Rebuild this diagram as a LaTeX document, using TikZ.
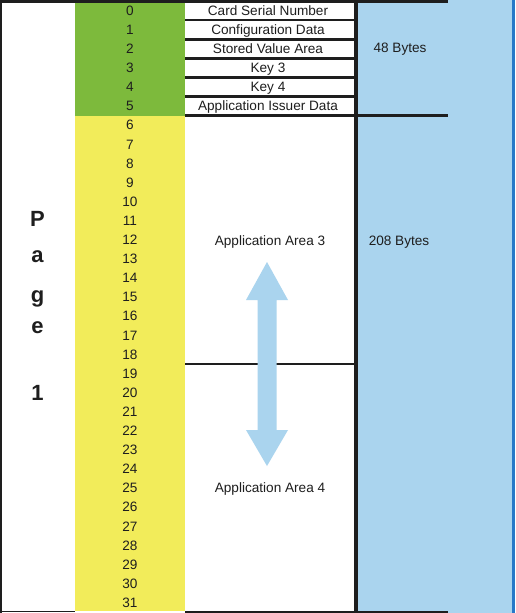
\documentclass[tikz,border=0pt]{standalone}
\usepackage{fontspec}
\setmainfont{Liberation Sans}
\definecolor{cgreen}{RGB}{125,186,60}
\definecolor{cyellow}{RGB}{242,236,90}
\definecolor{cblue}{RGB}{170,212,238}
\definecolor{cedge}{RGB}{40,120,200}
\definecolor{ink}{RGB}{30,30,30}
\begin{document}
\begin{tikzpicture}[x=1pt,y=-1pt,
  txt/.style={font=\fontsize{13.6}{14}\selectfont, text=ink, inner sep=0pt, anchor=base},
  pg/.style={font=\fontsize{22}{24}\selectfont\bfseries, text=ink, inner sep=0pt, anchor=base},
  rule/.style={draw=ink, line width=2.7pt},
  thinrule/.style={draw=ink, line width=2pt}]
\useasboundingbox (0,0) rectangle (515,613);
\fill[white] (0,0) rectangle (515,613);
% columns
\fill[cblue] (358,0) rectangle (515,613);
\fill[cedge] (512,0) rectangle (515,613);
\fill[cgreen] (75,3) rectangle (185,115.6);
\fill[cyellow] (75,115.6) rectangle (185,611);
% borders
\fill[ink] (0,0) rectangle (2,613);
\fill[ink] (0,0) rectangle (448,3);
\fill[ink] (0,610.5) rectangle (75,612);
\fill[ink] (185,610.5) rectangle (448,612.5);
% row rules
\foreach \k in {1,...,5}{
  \draw[rule] (185,{1+19.1*\k}) -- (356,{1+19.1*\k});
}
\draw[rule] (185,115.6) -- (448,115.6);
\draw[thinrule] (185,364.3) -- (356,364.3);
\draw[draw=ink, line width=3.5pt] (356,0) -- (356,613);
% arrow
\fill[cblue] (267,262) -- (288,300) -- (276.5,300) -- (276.5,430) -- (288,430)
  -- (267,466) -- (246,430) -- (257.5,430) -- (257.5,300) -- (246,300) -- cycle;
% numbers
\foreach \i in {0,...,31}{
  \node[txt] (n\i) at (130,{10.5+19.1*\i+4.8}) {\i};
}
% row labels
\node[txt] (r0) at (268,{10.5+4.8}) {Card Serial Number};
\node[txt] (r1) at (268,{29.6+4.8}) {Configuration Data};
\node[txt] (r2) at (268,{48.7+4.8}) {Stored Value Area};
\node[txt] (r3) at (268,{67.8+4.8}) {Key 3};
\node[txt] (r4) at (268,{86.9+4.8}) {Key 4};
\node[txt] (r5) at (268,{106+4.8}) {Application Issuer Data};
\node[txt] (a3) at (270,{241+4.8}) {Application Area 3};
\node[txt] (a4) at (270,{488+4.8}) {Application Area 4};
\node[txt] (b48) at (400,{48+4.8}) {48 Bytes};
\node[txt] (b208) at (399,{241+4.8}) {208 Bytes};
% Page 1
\node[pg] (pP) at (37.5,226) {P};
\node[pg] (pa) at (37.5,262) {a};
\node[pg] (pg) at (37.5,302) {g};
\node[pg] (pe) at (37.5,333) {e};
\node[pg] (p1) at (37.5,400) {1};
\end{tikzpicture}
\end{document}
